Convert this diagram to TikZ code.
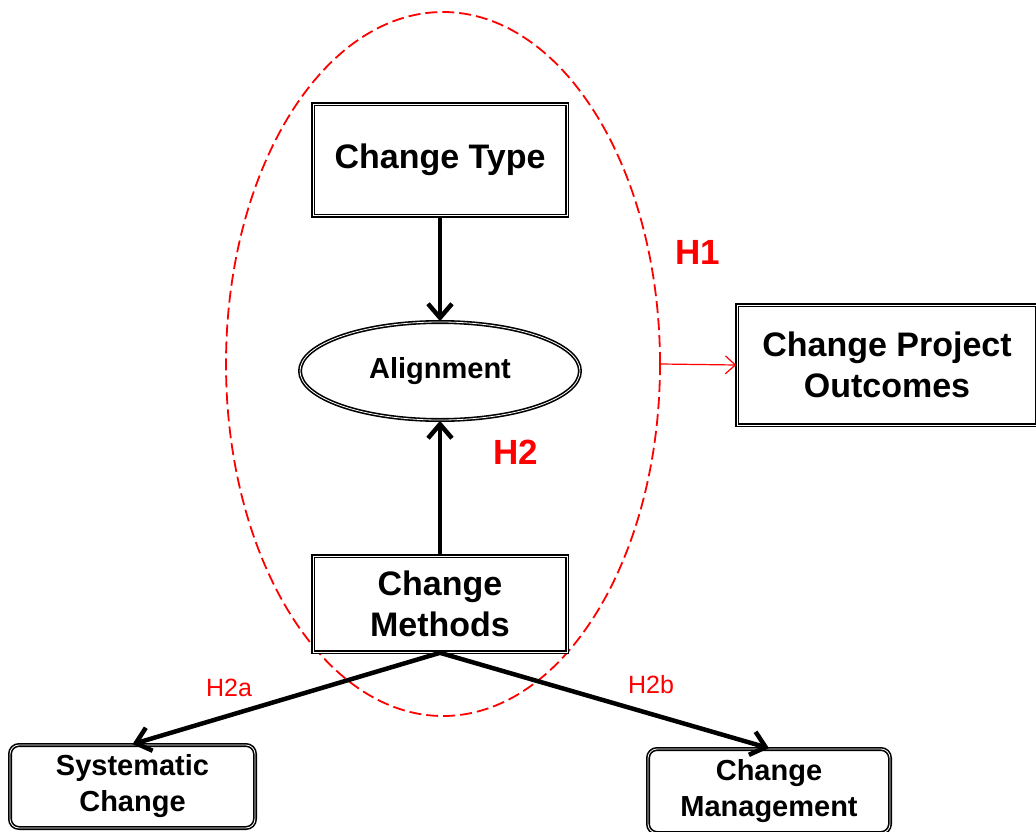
\documentclass[tikz,border=0pt]{standalone}
\usepackage{fontspec}
\setmainfont{Liberation Sans}
\usetikzlibrary{arrows.meta,shapes.geometric}
\begin{document}
\begin{tikzpicture}[x=1pt,y=-1pt,
  framed/.style={draw=black, line width=1.6pt, double=white, double distance=0.8pt,
    fill=white, inner sep=0pt, align=center, font=\bfseries\fontsize{34}{41}\selectfont},
  smallbox/.style={framed, rounded corners=9pt, font=\bfseries\fontsize{29}{36}\selectfont},
  flow/.style={line width=4.5pt, -{Straight Barb[length=14pt, width=24pt, line width=4.5pt]}},
  hyp/.style={text=red, font=\bfseries\fontsize{35}{40}\selectfont},
  subhyp/.style={text=red, font=\fontsize{25}{28}\selectfont}
]
\useasboundingbox (0,0) rectangle (1036,832);

% hypothesis region
\node[ellipse, draw=red, line width=1.8pt, dash pattern=on 12pt off 5pt,
  minimum width=434pt, minimum height=704pt, inner sep=0pt] (zone) at (443,364) {};

% main constructs
\node[framed, minimum width=254pt, minimum height=111pt] (type) at (440,160) {Change Type};
\node[framed, ellipse, minimum width=280pt, minimum height=98pt,
  font=\bfseries\fontsize{29}{34}\selectfont] (align) at (440,371) {Alignment};
\node[framed, minimum width=254pt, minimum height=96pt] (methods) at (440,604) {Change\\Methods};
\node[framed, minimum width=300pt, minimum height=120pt] (outcomes) at (887,365) {Change Project\\Outcomes};

% method categories
\node[smallbox, minimum width=245pt, minimum height=83pt] (systematic) at (132.5,786.5) {Systematic\\Change};
\node[smallbox, minimum width=242pt, minimum height=84pt] (management) at (769,791) {Change\\Management};

% connectors
\draw[flow] (type.south) -- (align.north);
\draw[flow] (methods.north) -- (align.south);
\draw[red, line width=1.2pt, -{Straight Barb[length=10pt, width=18pt, line width=1.2pt]}] (zone.east) -- (outcomes.west);
\draw[flow] (methods.south) -- (systematic.north);
\draw[flow] (methods.south) -- (management.north);

% hypothesis labels
\node[hyp] (h1) at (698,252) {H1};
\node[hyp] (h2) at (516,452) {H2};
\node[subhyp] (h2a) at (229,688) {H2a};
\node[subhyp] (h2b) at (651,685) {H2b};
\end{tikzpicture}
\end{document}
